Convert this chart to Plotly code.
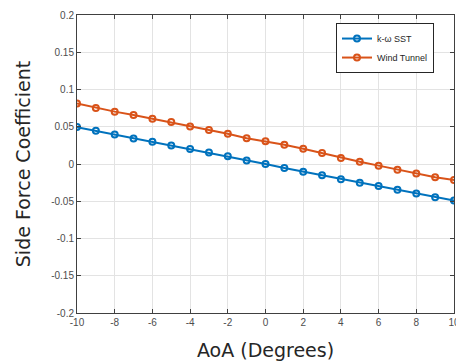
import plotly.graph_objects as go

aoa = [-10, -9, -8, -7, -6, -5, -4, -3, -2, -1, 0, 1, 2, 3, 4, 5, 6, 7, 8, 9, 10]
k_omega_sst = [0.0495, 0.0446, 0.0396, 0.0342, 0.0300, 0.0248, 0.0203, 0.0153, 0.0104, 0.0048,
               0.0000, -0.0054, -0.0103, -0.0152, -0.0205, -0.0250, -0.0295, -0.0344, -0.0397, -0.0446, -0.0491]
wind_tunnel = [0.0811, 0.0752, 0.0703, 0.0658, 0.0608, 0.0563, 0.0505, 0.0455, 0.0405, 0.0347,
               0.0304, 0.0259, 0.0205, 0.0147, 0.0082, 0.0031, -0.0022, -0.0076, -0.0129, -0.0179, -0.0214]

x_ticks = [-10, -8, -6, -4, -2, 0, 2, 4, 6, 8, 10]
y_ticks = [-0.2, -0.15, -0.1, -0.05, 0, 0.05, 0.1, 0.15, 0.2]
y_tick_labels = ["-0.2", "-0.15", "-0.1", "-0.05", "0", "0.05", "0.1", "0.15", "0.2"]
x_tick_labels = ["-10", "-8", "-6", "-4", "-2", "0", "2", "4", "6", "8", "10"]

fig = go.Figure()
fig.add_trace(go.Scatter(x=aoa, y=k_omega_sst, name="k-ω SST", mode="lines+markers",
                         line=dict(color="#0072BD", width=2),
                         marker=dict(symbol="circle-open", size=6, line=dict(width=2, color="#0072BD"))))
fig.add_trace(go.Scatter(x=aoa, y=wind_tunnel, name="Wind Tunnel", mode="lines+markers",
                         line=dict(color="#D95319", width=2),
                         marker=dict(symbol="circle-open", size=6, line=dict(width=2, color="#D95319"))))

axis_common = dict(showgrid=True, gridcolor="#e3e3e3", gridwidth=1, zeroline=False,
                   showline=True, linecolor="#404040", linewidth=1, mirror="allticks",
                   ticks="inside", ticklen=4, tickcolor="#404040", ticklabeloverflow="allow",
                   tickfont=dict(family="Liberation Sans, Arial", size=10, color="#4d4d4d"))

fig.update_xaxes(range=[-10, 10], tickvals=x_ticks, ticktext=x_tick_labels,
                 title=dict(text="AoA (Degrees)", standoff=16,
                            font=dict(family="DejaVu Sans", size=19, color="#262626")),
                 **axis_common)
fig.update_yaxes(range=[-0.2, 0.2], tickvals=y_ticks, ticktext=y_tick_labels,
                 title=dict(text="Side Force Coefficient", standoff=15,
                            font=dict(family="DejaVu Sans", size=19, color="#262626")),
                 **axis_common)

fig.update_layout(
    width=456, height=363,
    margin=dict(l=77, r=2, t=15, b=50, autoexpand=False),
    paper_bgcolor="white", plot_bgcolor="white",
    legend=dict(x=0.687, y=0.973, xanchor="left", yanchor="top",
                bgcolor="white", bordercolor="#262626", borderwidth=1,
                font=dict(family="Liberation Sans, Arial", size=9, color="#262626"),
                itemwidth=30, tracegroupgap=0),
)

fig.write_html("out.html", config={"displayModeBar": False},
               post_script="document.body.style.margin='0';document.body.style.overflow='hidden';")
